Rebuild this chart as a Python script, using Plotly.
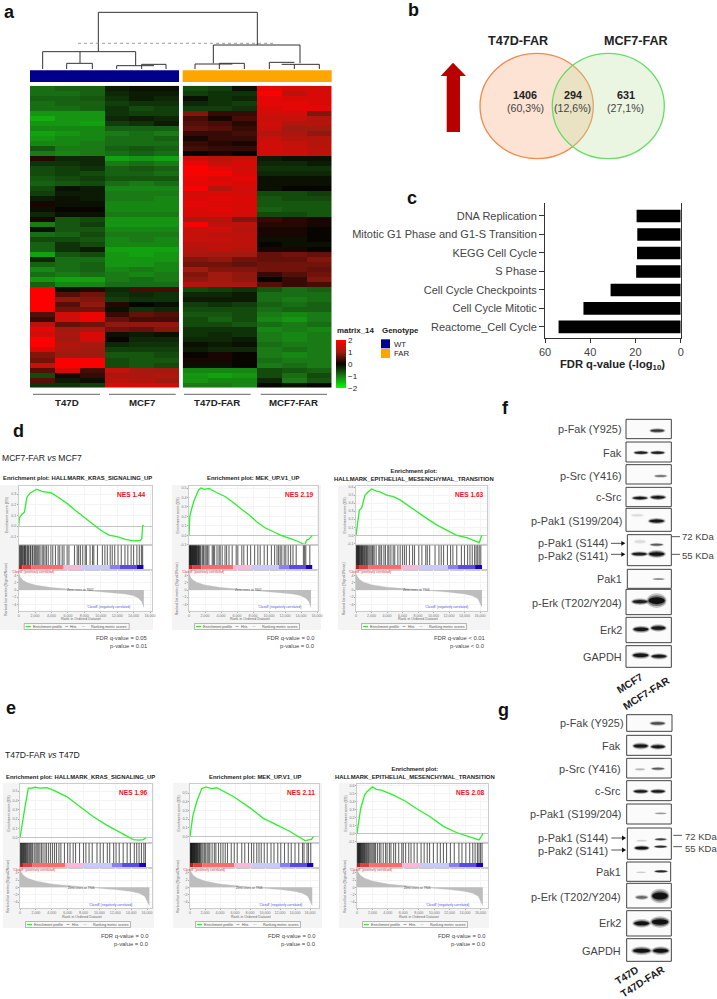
import plotly.graph_objects as go

W, H = 717, 999
FONT = "Liberation Sans"

# ---------- DATA ----------
# Panel a: expression z-scores, rows top to bottom; columns T47D x3, MCF7 x3, T47D-FAR x3, MCF7-FAR x3
heat_rows = [
[-0.9,-0.8,-0.8,-0.2,-0.1,-0.1,-0.6,-0.5,-0.1,1.7,1.6,1.5],
[-0.9,-0.9,-0.8,-0.3,-0.2,-0.2,-0.5,-0.4,-0.4,2.0,1.3,1.6],
[-0.8,-0.8,-0.7,-0.4,-0.2,-0.3,-0.1,-0.4,-0.3,1.7,1.6,1.6],
[-0.9,-0.8,-0.8,-0.5,-0.4,-0.4,-0.3,-0.4,-0.5,1.7,1.7,1.6],
[-0.9,-0.9,-0.8,-0.4,-0.6,-0.5,-0.5,-0.5,-0.4,1.6,1.7,1.7],
[-1.2,-1.2,-1.2,-0.4,-0.5,-0.5,0.8,0.3,0.3,1.5,1.5,0.8],
[-1.4,-1.2,-1.2,-0.3,-0.2,-0.3,0.4,0.1,0.4,1.4,1.4,1.2],
[-1.2,-1.2,-1.3,-0.5,-0.4,-0.2,0.5,0.4,0.2,1.5,1.2,1.2],
[-1.1,-1.1,-1.1,-0.8,-0.8,-0.8,0.6,0.5,0.3,1.4,1.0,1.0],
[-1.3,-1.2,-1.1,-1.0,-0.9,-1.0,0.3,0.3,0.4,1.2,1.1,0.9],
[-1.2,-1.1,-1.1,-0.9,-0.9,-0.8,0.1,0.3,0.3,1.4,1.2,1.2],
[-1.1,-1.1,-1.0,-0.9,-0.9,-0.9,0.3,0.2,0.1,1.5,1.4,1.2],
[-0.7,-1.0,-1.0,-0.8,-0.7,-0.8,0.4,0.3,0.3,1.5,1.4,1.3],
[-1.0,-1.1,-1.0,-0.9,-0.8,-0.9,0.0,0.1,0.0,1.5,1.5,1.3],
[0.2,-0.3,-0.3,-1.3,-1.2,-1.3,1.5,1.3,1.4,-0.2,-0.1,-0.1],
[-0.4,-0.4,-0.3,-1.0,-0.9,-1.0,1.8,1.4,1.6,-0.3,-0.3,-0.2],
[-0.6,-0.5,-0.4,-0.8,-0.7,-0.8,2.0,1.7,1.5,-0.4,-0.4,-0.4],
[-0.6,-0.5,-0.6,-0.8,-0.8,-0.9,1.9,1.9,1.6,-0.3,-0.3,-0.3],
[-0.7,-0.6,-0.5,-0.7,-0.7,-0.7,1.8,1.6,1.7,-0.1,-0.1,-0.1],
[-0.8,-0.7,-0.6,-0.9,-1.0,-0.9,1.7,1.7,1.6,-0.1,-0.1,-0.1],
[-0.6,-0.1,-0.2,-1.1,-1.1,-1.1,1.9,1.2,1.5,-0.1,0.0,0.0],
[-0.5,-0.2,-0.2,-1.0,-1.0,-1.0,1.5,1.6,1.5,-0.6,-0.6,-0.5],
[-0.2,-0.1,-0.2,-1.0,-1.0,-1.1,1.6,1.7,1.6,-0.7,-0.6,-0.6],
[0.1,-0.1,-0.1,-1.1,-1.1,-1.1,1.7,1.6,1.6,-0.7,-0.7,-0.7],
[-0.1,0.0,0.0,-1.1,-1.1,-1.1,1.6,1.7,1.6,-0.8,-0.7,-0.7],
[-0.3,-0.1,-0.1,-1.0,-1.0,-1.0,1.6,1.6,1.5,-0.6,-0.6,-0.7],
[0.1,-0.7,-0.6,-1.2,-1.2,-1.2,1.1,1.2,0.8,0.3,0.2,0.1],
[-1.0,-0.7,-0.5,-1.2,-1.2,-1.2,1.9,1.3,1.3,0.2,0.2,0.1],
[-0.1,-0.7,-0.7,-1.1,-1.1,-1.1,1.4,1.5,1.2,0.1,0.1,0.0],
[-0.9,-0.8,-0.6,-1.0,-1.0,-1.0,1.4,1.3,1.3,0.1,0.1,0.0],
[-0.6,-0.6,-0.7,-1.1,-1.0,-1.1,1.4,1.4,1.3,-0.1,-0.1,0.0],
[-0.8,-0.4,-0.6,-1.1,-1.1,-1.1,1.3,1.3,1.3,0.0,-0.1,-0.1],
[-0.8,-0.4,-0.2,-1.3,-1.3,-1.3,1.2,1.3,1.2,0.1,0.1,0.0],
[-1.3,-0.7,-0.6,-1.2,-1.3,-1.2,1.1,1.0,1.0,0.6,0.7,0.6],
[-0.3,-0.9,-0.9,-1.2,-1.2,-1.2,0.8,0.9,0.7,0.6,0.6,0.8],
[-0.8,-0.9,-0.8,-1.2,-1.2,-1.1,0.7,0.7,0.6,0.7,0.7,0.7],
[-1.1,-0.9,-0.8,-1.1,-1.0,-1.1,1.0,0.8,0.8,0.7,0.7,0.6],
[-0.9,-1.0,-0.9,-1.0,-1.1,-1.0,0.8,1.0,0.9,0.3,0.5,0.7],
[-1.2,-1.3,-1.3,-1.0,-0.9,-1.0,0.9,1.0,0.9,0.0,0.3,0.8],
[-0.8,-1.1,-1.1,-0.9,-0.9,-0.9,1.2,1.1,1.1,0.5,0.3,0.4],
[2.0,-0.1,0.2,-0.3,0.4,0.4,-0.6,-0.5,-0.4,-0.7,-0.9,-0.8],
[2.0,0.5,0.7,-0.4,-0.3,-0.4,-0.3,-0.3,-0.2,-0.9,-0.9,-0.9],
[2.0,0.9,0.8,-0.5,-0.4,-0.4,-0.2,-0.2,-0.2,-0.9,-1.0,-0.9],
[2.0,0.5,0.9,0.2,0.0,-0.1,-0.5,-0.4,-0.5,-0.8,-0.9,-0.8],
[2.0,0.7,0.7,-0.1,-0.4,-0.3,-0.6,-0.6,-0.6,-0.9,-0.8,-0.8],
[0.5,1.5,1.8,0.3,0.6,0.5,-0.7,-0.7,-0.6,-1.0,-1.1,-1.0],
[0.3,1.5,1.8,0.6,0.4,0.4,-0.6,-0.8,-0.6,-1.1,-1.2,-1.0],
[1.3,0.6,0.7,0.9,0.9,0.9,-0.6,-0.6,-0.7,-0.9,-1.0,-0.9],
[1.7,1.0,1.1,0.7,0.6,0.8,-0.4,-0.4,-0.4,-1.1,-1.0,-1.1],
[1.5,1.1,1.6,-0.1,-0.2,-0.1,-0.4,-0.3,-0.4,-1.0,-1.1,-1.0],
[2.0,1.0,1.5,0.0,-0.3,-0.3,-0.3,-0.3,-0.2,-1.0,-1.1,-1.0],
[2.0,1.2,1.1,-0.3,-0.4,-0.4,-0.1,-0.2,-0.1,-0.9,-1.0,-1.0],
[1.6,1.1,1.0,-0.5,-0.5,-0.5,-0.2,-0.3,-0.3,-1.0,-0.9,-1.0],
[0.8,1.0,1.0,-0.7,-0.7,-0.6,0.0,0.1,0.0,-1.0,-1.1,-1.0],
[0.7,1.9,1.9,-0.6,-0.7,-0.7,0.1,0.1,0.0,-0.9,-1.0,-1.0],
[1.4,2.0,2.0,-0.6,-0.7,-0.6,-0.1,-0.1,0.0,-1.0,-0.9,-1.0],
[0.5,1.6,0.4,1.4,1.1,1.0,-1.1,-1.1,-1.1,-0.6,-0.7,-0.8],
[-0.6,0.1,0.3,1.1,1.1,1.2,-1.2,-1.3,-1.2,-0.6,-0.9,-0.6],
[0.5,-0.2,-0.1,1.3,1.2,1.0,-1.2,-1.1,-1.1,-0.3,-1.0,-0.7],
[-0.4,-0.4,-0.5,1.6,1.5,1.5,-1.0,-1.0,-1.1,0.0,-0.1,0.0],
]
group_labels = ["T47D", "MCF7", "T47D-FAR", "MCF7-FAR"]
genotype_labels = ["WT", "FAR"]

# Panel b
venn_sets = ["T47D-FAR", "MCF7-FAR"]
venn_counts = ["1406", "294", "631"]
venn_shares = ["(60,3%)", "(12,6%)", "(27,1%)"]

# Panel c
pathways = ["DNA Replication", "Mitotic G1 Phase and G1-S Transition", "KEGG Cell Cycle", "S Phase",
            "Cell Cycle Checkpoints", "Cell Cycle Mitotic", "Reactome_Cell Cycle"]
fdr_values = [19.5, 19.2, 19.3, 19.7, 31, 43, 54]

# Panels d, e: running enrichment score
es_d1_rank = [0,100,400,700,1000,1400,2000,2200,2800,3400,4000,5000,6000,7000,8000,9000,10000,11000,12000,13000,14000,14800,15000,15100,15200]
es_d1 = [0,0.08,0.11,0.13,0.27,0.31,0.335,0.345,0.325,0.32,0.31,0.26,0.205,0.14,0.08,0.02,-0.04,-0.085,-0.1,-0.125,-0.14,-0.135,-0.12,0.0,0.01]
es_d2_rank = [0,100,300,600,900,1200,1500,1900,2500,3000,3500,4500,5500,6500,7600,8500,9500,10500,11500,12500,13500,14500,14700,15000,15200,15400]
es_d2 = [0,0.2,0.27,0.36,0.42,0.48,0.5,0.485,0.495,0.47,0.45,0.41,0.35,0.28,0.21,0.14,0.08,0.04,0.0,-0.03,-0.06,-0.1,-0.05,-0.04,-0.02,0.0]
es_d3_rank = [0,170,430,730,1160,1590,2020,2660,3100,3960,4820,5680,6540,7830,9120,10400,11700,13000,14300,15570,15910,16080,16260]
es_d3 = [0,0.11,0.31,0.34,0.5,0.54,0.575,0.55,0.54,0.5,0.48,0.44,0.38,0.3,0.21,0.13,0.06,0,-0.03,-0.08,-0.09,-0.04,0]
es_e1_rank = [0,340,630,1050,1470,1890,2520,3360,4200,5880,7560,9240,10920,12600,14280,15000,15540,15876]
es_e1 = [0,0.2,0.33,0.53,0.53,0.54,0.53,0.535,0.51,0.44,0.33,0.225,0.135,0.055,-0.02,-0.025,-0.02,0.0]
es_e2_rank = [0,360,890,1560,2130,2890,3560,5780,8000,9780,11560,13330,15330,16000,16200,16440]
es_e2 = [0,0.23,0.4,0.55,0.57,0.55,0.56,0.46,0.33,0.21,0.135,0.06,-0.045,-0.03,-0.03,0]
es_e3_rank = [0,216,475,990,1300,1990,2500,3150,4670,6390,7690,9420,11150,12880,14600,15810,16110,16330]
es_e3 = [0,0.125,0.31,0.48,0.52,0.58,0.55,0.54,0.48,0.395,0.31,0.21,0.09,0.01,-0.04,-0.083,-0.04,0]

# gene-set hit ranks
hits_d1 = [60,150,240,330,420,500,620,700,790,860,1010,1100,1200,1380,1450,1640,1720,1900,2020,2150,2310,2450,2600,2850,3000,3200,3380,3600,3920,4150,4480,4800,5000,5300,5520,5900,6120,6800,7130,7300,7520,7800,8100,8250,8700,9000,9150,9600,10200,10500,10800,11150,11400,11700,12100,12500,12950,13300,13700,14000,14400,14700,14950,15100]
hits_d2 = [40,90,140,190,240,300,360,420,470,530,590,640,700,760,820,880,940,1010,1090,1160,1220,1300,1400,1500,1700,1820,2000,2150,2300,2480,2900,3050,3200,3500,3750,3900,4150,4500,4700,5000,5400,5900,6100,6600,6850,7300,7700,8200,8600,8900,9400,9800,10300,10700,11000,11200,11400,11600,11900,12100,12400,12700,13000,13400,14300,14450,14600,15100]
hits_d3 = [40,100,160,220,280,340,400,480,550,640,720,800,880,950,1100,1180,1300,1380,1500,1650,1800,1950,2100,2200,2350,2600,2950,3100,3300,3600,3800,4100,4250,4500,4800,5000,5400,5700,6000,6250,6500,6900,7300,7550,8100,8500,9000,9200,9500,10200,10700,11000,11300,11800,12200,12500,13000,13600,14000,14400,14700,15000,15300,15500,15700,15900,16100]
hits_e1 = [50,120,200,270,350,430,510,590,680,770,860,960,1100,1220,1340,1480,1600,1800,2000,2150,2300,2500,2700,2900,3150,3350,3600,3850,4100,4350,4600,4900,5150,5600,6000,6300,6700,7000,7500,8000,8300,8700,9100,9700,10100,10500,11000,11300,11800,12100,12500,13000,13500,13900,14400,14700,15000,15300,15600,15800]
hits_e2 = [40,90,140,190,240,290,350,410,470,530,590,650,720,790,860,930,1000,1080,1170,1260,1350,1450,1600,1750,1950,2100,2300,2500,2650,2950,3250,3450,3800,4100,4400,4700,5000,5500,5900,6300,6900,7300,7800,8200,8500,8900,9200,9500,9900,10300,10800,11200,11700,12100,12600,13100,13500,14000,14500,15000,15200,15600,15800,16100]
hits_e3 = [40,100,160,220,280,340,400,470,540,620,700,790,870,960,1050,1150,1250,1380,1500,1650,1800,1950,2100,2250,2400,2650,2900,3100,3400,3700,3900,4200,4400,4750,5000,5400,5800,6000,6300,6700,7000,7400,7800,8300,8700,9100,9400,9900,10400,10800,11200,11600,12100,12600,13200,13600,14100,14600,15000,15300,15600,15800,16000,16200]

# ranking metric
metric_rank_d = [0,200,500,1000,2000,3000,4000,5000,6000,7000,7607,9000,10000,11000,12000,13000,14000,14600,15000,15250]
metric_d = [5.0,3.6,2.8,2.1,1.4,1.0,0.7,0.5,0.3,0.1,0,-0.2,-0.4,-0.6,-0.8,-1.1,-1.6,-2.3,-3.3,-5.0]
metric_rank_d3 = [0,200,500,1000,2000,3000,4000,5000,6000,7000,7900,9000,10000,11000,12000,13000,14000,15000,15700,16250]
metric_d3 = [4.6,3.7,2.9,2.2,1.5,1.1,0.8,0.6,0.4,0.2,0,-0.15,-0.3,-0.45,-0.6,-0.8,-1.1,-1.6,-2.4,-4.8]
metric_rank_e = [0,200,500,1000,2000,3000,4000,5000,6000,7000,7900,9000,10000,11000,12000,13000,14000,15000,15700,16300]
metric_e = [4.9,4.0,3.2,2.5,1.7,1.2,0.9,0.7,0.5,0.25,0,-0.15,-0.3,-0.45,-0.6,-0.8,-1.1,-1.6,-2.4,-5.0]
band_fracs = [0,0.03,0.1,0.36,0.5,0.73,0.81,0.945,1]

gsea_titles = ["Enrichment plot: HALLMARK_KRAS_SIGNALING_UP", "Enrichment plot: MEK_UP.V1_UP",
               "Enrichment plot:<br>HALLMARK_EPITHELIAL_MESENCHYMAL_TRANSITION"]
nes_d = ["NES 1.44", "NES 2.19", "NES 1.63"]
nes_e = ["NES 1.96", "NES 2.11", "NES 2.08"]
stats_d = [("FDR q-value = 0.05","p-value = 0.01"),("FDR q-value = 0.0","p-value = 0.0"),("FDR q-value < 0.01","p-value < 0.0")]
stats_e = [("FDR q-value = 0.0","p-value = 0.0"),("FDR q-value = 0.0","p-value = 0.0"),("FDR q-value = 0.0","p-value = 0.0")]
rank_ticks = [0,2000,4000,6000,8000,10000,12000,14000,16000]
rank_ticktext = ["0","2,000","4,000","6,000","8,000","10,000","12,000","14,000","16,000"]

# Panels f, g: western blot labels
blot_labels = ["p-Fak (Y925)","Fak","p-Src (Y416)","c-Src","p-Pak1 (S199/204)","p-Pak1 (S144)","p-Pak2 (S141)","Pak1","p-Erk (T202/Y204)","Erk2","GAPDH"]

# ---------- STYLE AND LAYOUT CONSTANTS (pixels on the page) ----------
HEAT_SCALE = [[0,"#00ff00"],[0.25,"#1a7a16"],[0.5,"#080400"],[0.75,"#a01a10"],[1,"#ff0000"]]
BAND_COLORS = ["#b82020","#e04040","#ff6a6a","#f9b8d8","#c9c9fb","#8a80f5","#5a4ae8","#1c00b8"]
DENDRO = [(295,37,772,37),(295,37,295,155),(772,37,772,135),
 (128,155,407,155),(128,155,128,207),(240,155,240,190),(200,190,277,190),(200,190,200,207),(277,190,277,207),
 (407,155,407,197),(350,197,462,197),(350,197,350,207),(425,193,498,193),(425,193,425,207),(498,193,498,207),
 (640,135,900,135),(640,135,640,190),(585,192,697,192),(585,192,585,207),(658,190,733,190),(658,190,658,207),(733,190,733,207),
 (900,135,900,190),(808,187,883,187),(808,187,808,207),(845,193,958,193),(883,193,883,207),(958,193,958,207)]

layout = dict(width=W, height=H, margin=dict(l=0,r=0,t=0,b=0,autoexpand=False), showlegend=False, paper_bgcolor="white",
              plot_bgcolor="rgba(0,0,0,0)", barmode="overlay", font=dict(family=FONT),
              xaxis=dict(domain=[0,1],range=[0,W],visible=False,fixedrange=True),
              yaxis=dict(domain=[0,1],range=[H,0],visible=False,fixedrange=True))
shapes, annots = [], []
traces = []
counter = [1]

def new_axes(x0, x1, y0, y1, xa, ya):
    counter[0] += 1
    n = counter[0]
    layout[f"xaxis{n}"] = dict(domain=[x0/W, x1/W], anchor=f"y{n}", fixedrange=True, **xa)
    layout[f"yaxis{n}"] = dict(domain=[1-y1/H, 1-y0/H], anchor=f"x{n}", fixedrange=True, **ya)
    return f"x{n}", f"y{n}"

def T(x, y, text, size, color="#222", anchor="center", bold=False, angle=0):
    if bold:
        text = "<b>" + text.replace("<br>", "</b><br><b>") + "</b>"
    annots.append(dict(x=x, y=y, xref="x", yref="y", text=text, showarrow=False, xanchor=anchor, yanchor="middle",
                       textangle=angle, borderpad=0, font=dict(size=size, color=color, family=FONT)))

def rect(x0, y0, x1, y1, fill="rgba(0,0,0,0)", line="rgba(0,0,0,0)", lw=0, layer="below"):
    shapes.append(dict(type="rect", xref="x", yref="y", x0=x0, y0=y0, x1=x1, y1=y1, fillcolor=fill,
                       line=dict(color=line, width=lw), layer=layer))

def seg(x0, y0, x1, y1, color="#333", lw=1, dash="solid"):
    shapes.append(dict(type="line", xref="x", yref="y", x0=x0, y0=y0, x1=x1, y1=y1, line=dict(color=color, width=lw, dash=dash), layer="above"))

# panel letters
for x, y, s in [(9,12,"a"),(413,10,"b"),(412,198,"c"),(18,431,"d"),(11,708,"e"),(505,408,"f"),(503,710,"g")]:
    T(x, y, s, 18, "#111", bold=True)

# ---------- a ----------
dx, dy = [], []
for a, b, c, d in DENDRO:
    dx += [a/3, c/3, None]
    dy += [b/3, d/3, None]
traces.append(go.Scatter(x=dx, y=dy, mode="lines", line=dict(color="#333", width=1), xaxis="x", yaxis="y", hoverinfo="skip"))
seg(78, 43.3, 276, 43.3, "#888", 0.8, "dot")
rect(30, 70.3, 179, 82, "#00008b")
rect(182.7, 70.3, 331.7, 82, "#ffa500")
left = [r[:6] for r in heat_rows]
right = [r[6:] for r in heat_rows]
for i, (z, x0, x1) in enumerate([(left, 30, 179), (right, 182.7, 331.7)]):
    xa, ya = new_axes(x0, x1, 85.7, 387.7,
                      dict(range=[-0.5,5.5], visible=False),
                      dict(range=[len(z)-0.5,-0.5], visible=False))
    tr = go.Heatmap(z=z, xaxis=xa, yaxis=ya, zmin=-2, zmax=2, colorscale=HEAT_SCALE, hoverinfo="skip", showscale=(i==0))
    if i == 0:
        tr.colorbar = dict(x=336/W, xanchor="left", y=1-364/H, yanchor="middle", len=48/H, lenmode="fraction",
                           thickness=10, thicknessmode="pixels", outlinewidth=0, xpad=0, ypad=0,
                           tickvals=[-2,-1,0,1,2], ticktext=["\u22122","\u22121","0","1","2"], ticks="",
                           tickfont=dict(size=8, color="#222", family=FONT))
    traces.append(tr)
for (a, b), lab in zip([(33,100),(109,175.7),(184,250.7),(260.7,327)], group_labels):
    seg(a, 394.3, b, 394.3, "#555", 0.9)
    T((a+b)/2, 402.5, lab, 9.7, "#222", bold=True)
T(336, 330, "matrix_14", 7.9, "#222", anchor="left", bold=True)
T(381, 330, "Genotype", 7.9, "#222", anchor="left", bold=True)
rect(381, 339.3, 390, 348.3, "#00008b")
rect(381, 349, 390, 358, "#ffa500")
T(393, 344, genotype_labels[0], 7.8, "#222", anchor="left")
T(393, 353.5, genotype_labels[1], 7.8, "#222", anchor="left")

# ---------- b ----------
shapes.append(dict(type="circle", xref="x", yref="y", x0=480, x1=593.3, y0=53.3, y1=158.7,
                   fillcolor="rgba(250,170,120,0.33)", line=dict(color="#ee8a50", width=1.3), layer="below"))
shapes.append(dict(type="circle", xref="x", yref="y", x0=552.3, x1=664.3, y0=53.3, y1=158.7,
                   fillcolor="rgba(190,225,160,0.30)", line=dict(color="#66dd66", width=1.3), layer="below"))
shapes.append(dict(type="path", xref="x", yref="y", layer="below", fillcolor="#b80000", line=dict(width=0),
                   path="M453,62.7 L466,76 L460,76 L460,132 L446.7,132 L446.7,76 L440.7,76 Z"))
T(518, 40.7, venn_sets[0], 12.6, "#222", bold=True)
T(636, 40.7, venn_sets[1], 12.6, "#222", bold=True)
for x, c, s in zip([525, 572.7, 625.7], venn_counts, venn_shares):
    T(x, 95, c, 10.8, "#222", bold=True)
    T(x, 108.3, s, 10.6, "#444")

# ---------- c ----------
xa, ya = new_axes(545, 680.7, 203, 338,
    dict(range=[60,0], tickvals=[0,20,40,60], ticks="outside", ticklen=4, tickcolor="#333", showline=True, linecolor="#333",
         linewidth=1, showgrid=False, zeroline=False, tickfont=dict(size=11, color="#444", family=FONT)),
    dict(range=[6.6,-0.7], tickvals=list(range(7)), ticktext=pathways, ticks="outside", ticklen=5, tickcolor="#333",
         showline=True, linecolor="#333", linewidth=1, mirror=True, showgrid=False, zeroline=False,
         tickfont=dict(size=11, color="#444", family=FONT)))
traces.append(go.Bar(y=list(range(7)), x=fdr_values, orientation="h", width=0.68, marker=dict(color="black", line=dict(width=0)),
                     xaxis=xa, yaxis=ya, hoverinfo="skip"))
T(612, 365, "FDR q-value (-log<sub>10</sub>)", 11.2, "#222", bold=True)

# ---------- d, e ----------
def gsea(L, rank, es, hits, mrank, metric, estick, title, nes, stats, zero):
    ox0, ox1 = L["ox"]; oy0, oy1 = L["oy"]; px0, px1 = L["px"]
    ytop, y1, y2, y3 = L["ys"]
    rect(ox0, oy0, ox1, oy1, "#f4f4f4")
    rect(px0, ytop, px1, y3, "white")
    k = (L["x16"]-L["x0"])/16000
    xr = [(px0-L["x0"])/k, (px1-L["x0"])/k]
    v1, p1, v2, p2 = L["es"]
    ke = (p2-p1)/(v2-v1)
    yr_es = [v1+(y1-p1)/ke, v1+(ytop-p1)/ke]
    frame = dict(showline=True, linecolor="#cccccc", linewidth=0.6, mirror=True)
    tf = dict(size=3.6, color="#777", family=FONT)
    xa, ya = new_axes(px0, px1, ytop, y1,
        dict(range=xr, tickvals=rank_ticks, showticklabels=False, ticks="", showgrid=True, gridcolor="#f4f4f4", gridwidth=0.4, zeroline=False, **frame),
        dict(range=yr_es, tickvals=estick, ticktext=[f"{v:.1f}" for v in estick], ticks="outside", ticklen=1, tickcolor="#aaa",
             tickfont=tf, showgrid=True, gridcolor="#f4f4f4", gridwidth=0.4, zeroline=True, zerolinecolor="#c4c4c4", zerolinewidth=0.8, **frame))
    traces.append(go.Scatter(x=rank, y=es, mode="lines", line=dict(color="#2bf02b", width=1.3), xaxis=xa, yaxis=ya, hoverinfo="skip"))
    # hits + colour strip
    N = rank[-1]
    bh = 5/(y2-y1)
    xa, ya = new_axes(px0, px1, y1, y2,
        dict(range=xr, visible=True, showticklabels=False, ticks="", showgrid=False, zeroline=False, **frame),
        dict(range=[0,1], visible=True, showticklabels=False, ticks="", showgrid=False, zeroline=False, **frame))
    hx, hy = [], []
    for h in hits:
        hx += [h, h, None]
        hy += [bh, 1, None]
    traces.append(go.Scatter(x=hx, y=hy, mode="lines", line=dict(color="rgba(0,0,0,0.6)", width=1.1), xaxis=xa, yaxis=ya, hoverinfo="skip"))
    starts = [f*N for f in band_fracs[:-1]]
    widths = [(b-a)*N for a, b in zip(band_fracs[:-1], band_fracs[1:])]
    traces.append(go.Bar(y=[bh/2]*8, x=widths, base=starts, width=bh, orientation="h", marker=dict(color=BAND_COLORS, line=dict(width=0)),
                         xaxis=xa, yaxis=ya, hoverinfo="skip"))
    # ranking metric
    v1, p1, v2, p2 = L["rk"]
    kr = (p2-p1)/(v2-v1)
    xa, ya = new_axes(px0, px1, y2, y3,
        dict(range=xr, tickvals=rank_ticks, ticktext=rank_ticktext, ticks="outside", ticklen=1, tickcolor="#aaa", tickfont=tf,
             showgrid=True, gridcolor="#f4f4f4", gridwidth=0.4, zeroline=False, **frame),
        dict(range=[v1+(y3-p1)/kr, v1+(y2-p1)/kr], tickvals=[-4,-2,0,2,4], ticks="outside", ticklen=1, tickcolor="#aaa", tickfont=tf,
             showgrid=True, gridcolor="#f4f4f4", gridwidth=0.4, zeroline=False, **frame))
    traces.append(go.Scatter(x=mrank, y=metric, mode="lines", line=dict(color="#bdbdbd", width=0.3), fill="tozeroy", fillcolor="#bdbdbd",
                             xaxis=xa, yaxis=ya, hoverinfo="skip"))
    # texts
    cx = (px0+px1)/2
    T(L["tx"], ytop-(7.5 if "<br>" not in title else 11), title, 5.9, "#222", bold=True)
    T(L["nx"], ytop+8.5, nes, 6.6, "#f01020", anchor="right", bold=True)
    T(L["nx"]+1, oy1+8, stats[0], 5.85, "#444", anchor="right")
    T(L["nx"]+1, oy1+15.5, stats[1], 5.85, "#444", anchor="right")
    T(px0-12, (ytop+y1)/2, "Enrichment score (ES)", 3.6, "#666", angle=-90)
    T(px0-12, (y2+y3)/2-1, "Ranked list metric (Signal2Noise)", 3.6, "#666", angle=-90)
    T(cx-4, y3+8.5, "Rank in Ordered Dataset", 3.6, "#666")
    T(px0+14, y2+1.6, "'Class8' (positively correlated)", 3.2, "#e83030")
    T(px0+90, y3-3.5, "'Class8' (negatively correlated)", 3.2, "#5050e0")
    T(cx-5, y2+20, zero, 3.2, "#444")
    lx0 = px0+5.5
    rect(lx0, oy1-6.5, lx0+105, oy1-0.5, "#f8f8f8", "#777", 0.5)
    seg(lx0+1.5, oy1-3.5, lx0+6.5, oy1-3.5, "#22ee22", 1)
    T(lx0+7.5, oy1-3.5, "Enrichment profile", 3.6, "#555", anchor="left")
    seg(lx0+41, oy1-3.5, lx0+44, oy1-3.5, "#555", 0.5)
    T(lx0+45, oy1-3.5, "Hits", 3.6, "#555", anchor="left")
    seg(lx0+58, oy1-3.5, lx0+61, oy1-3.5, "#bbb", 0.5)
    T(lx0+66, oy1-3.5, "Ranking metric scores", 3.6, "#555", anchor="left")

D_Y = dict(oy=(485,630), ys=(485.7,545.3,570,610.7), rk=(4,575.7,-4,604.3))
E_Y = dict(oy=(783,928), ys=(784,843,868,908), rk=(4,872.7,-4,902))
panels = [
 (dict(D_Y, ox=(0,153), px=(18.7,151.7), x0=18.7, x16=150, es=(0.3,494,0.0,526), tx=77, nx=147),
  es_d1_rank, es_d1, hits_d1, metric_rank_d, metric_d, [-0.1,0,0.1,0.2,0.3], gsea_titles[0], nes_d[0], stats_d[0], "Zero cross at 7607"),
 (dict(D_Y, ox=(172,321), px=(189,318.3), x0=189, x16=317, es=(0.5,488,0.0,535.3), tx=253, nx=315),
  es_d2_rank, es_d2, hits_d2, metric_rank_d, metric_d, [-0.1,0,0.1,0.2,0.3,0.4,0.5], gsea_titles[1], nes_d[1], stats_d[1], "Zero cross at 7607"),
 (dict(D_Y, ox=(338,490), px=(356,487), x0=356, x16=480, es=(0.6,487,0.0,535.3), tx=414, nx=485),
  es_d3_rank, es_d3, hits_d3, metric_rank_d3, metric_d3, [-0.1,0,0.1,0.2,0.3,0.4,0.5,0.6], gsea_titles[2], nes_d[2], stats_d[2], "Zero cross at 7906"),
 (dict(E_Y, ox=(3,154), px=(20,152), x0=20, x16=147, es=(0.5,791,0.0,837.7), tx=80, nx=149),
  es_e1_rank, es_e1, hits_e1, metric_rank_e, metric_e, [0,0.1,0.2,0.3,0.4,0.5], gsea_titles[0], nes_e[0], stats_e[0], "Zero cross at 7906"),
 (dict(E_Y, ox=(173,322), px=(190,319), x0=190, x16=310, es=(0.5,793,0.0,836.7), tx=255, nx=316),
  es_e2_rank, es_e2, hits_e2, metric_rank_e, metric_e, [0,0.1,0.2,0.3,0.4,0.5], gsea_titles[1], nes_e[1], stats_e[1], "Zero cross at 7906"),
 (dict(E_Y, ox=(339,489), px=(357,488), x0=357, x16=480.5, es=(0.6,785.3,0.0,833.3), tx=415, nx=486),
  es_e3_rank, es_e3, hits_e3, metric_rank_e, metric_e, [-0.1,0,0.1,0.2,0.3,0.4,0.5,0.6], gsea_titles[2], nes_e[2], stats_e[2], "Zero cross at 7906"),
]
for p in panels:
    gsea(*p)
T(1, 458, "MCF7-FAR <i>vs</i> MCF7", 8.6, "#222", anchor="left")
T(4, 755, "T47D-FAR <i>vs</i> T47D", 8.6, "#222", anchor="left")

# ---------- f, g ----------
def band(ox, oy, cx, cy, w, h, d):
    X = ox+cx/3; Y = oy+cy/3
    w /= 3; h /= 3
    for sx, sy, op in [(1.12,1.7,0.22*d),(1.0,1.25,0.4*d),(0.9,0.8,0.85*d)]:
        shapes.append(dict(type="circle", xref="x", yref="y", x0=X-w*sx/2, x1=X+w*sx/2, y0=Y-h*sy/2, y1=Y+h*sy/2,
                           fillcolor=f"rgba(0,0,0,{op:.2f})", line=dict(width=0), layer="below"))

def blot(ox, oy, boxes, labpos, bands, intens, tail, kda, name_labels):
    for b in boxes:
        rect(ox+b[0]/3, oy+b[1]/3, ox+b[2]/3, oy+b[3]/3, "#fbfbfb", "#444", 1)
    for (cx, cy, w, h), d in zip(bands, intens):
        band(ox, oy, cx, cy, w, h, d)
    for (x, y), s in zip(labpos, blot_labels):
        T(ox+x/3, oy+y/3, s, 10.9, "#444", anchor="right")
    for y, (a, b) in tail:
        seg(ox+a/3, oy+y/3, ox+b/3, oy+y/3, "#444", 0.9)
        shapes.append(dict(type="path", xref="x", yref="y", layer="above", fillcolor="#111", line=dict(width=0),
                           path=f"M{ox+(b+6)/3},{oy+y/3} L{ox+(b-6)/3},{oy+y/3-2.4} L{ox+(b-6)/3},{oy+y/3+2.4} Z"))
    for (x0, x1, yl, xt, yt), s in zip(kda, ["72 KDa", "55 KDa"]):
        seg(ox+x0/3, oy+yl/3, ox+x1/3, oy+yl/3, "#444", 0.9)
        T(ox+xt/3, oy+yt/3, s, 9.5, "#444", anchor="left")
    for x, y, s in name_labels:
        T(x, y, s, 10.3, "#222", bold=True, angle=-32)

blot(510, 400,
     [(348,58,484,116),(348,126,484,186),(348,194,484,252),(348,262,484,320),(348,325,484,394),(352,404,484,497),
      (352,508,484,565),(348,568,484,644),(348,652,484,728),(348,737,484,802)],
     [(338,88),(338,158),(338,227),(338,292),(338,362),(298,430),(298,468),(338,537),(338,608),(338,690),(338,770)],
     [(442,92,44,9),(393,158,42,8),(443,158,42,8),(452,228,38,6),(390,294,46,9),(444,292,46,10),(440,363,48,11),(382,346,40,8),
      (388,462,48,10),(440,462,50,14),(440,434,40,7),(390,425,36,10),(446,537,36,4),(390,605,48,12),(440,602,54,26),
      (393,688,48,13),(445,684,46,13),(392,766,50,13),(447,769,48,11)],
     [0.75,0.9,0.9,0.5,0.95,0.95,0.95,0.08,0.9,1,0.55,0.08,0.5,0.9,1,0.95,0.95,0.95,0.95],
     [(430,(303,340)),(463,(303,340))],
     [(485,510,410,514,410),(485,510,463,514,466)],
     [(629.6,683.7,"MCF7"),(646,693,"MCF7-FAR")])
blot(510, 690,
     [(350,74,486,124),(350,136,484,196),(350,205,484,264),(350,272,484,332),(350,342,484,402),(352,414,484,508),
      (350,516,482,574),(350,580,484,654),(350,662,484,738),(350,746,484,814)],
     [(345,100),(336,168),(336,236),(336,304),(336,371),(296,444),(296,483),(336,547),(336,620),(336,700),(336,782)],
     [(443,100,46,9),(392,168,46,12),(444,170,44,11),(390,238,32,6),(444,236,40,7),(392,304,44,9),(444,304,44,9),(452,370,36,4),
      (395,452,32,4),(395,474,44,10),(452,448,36,6),(452,470,38,6),(393,547,30,4),(453,544,40,6),(395,622,38,10),(450,618,52,26),
      (395,700,50,15),(450,696,54,20),(395,782,56,15),(452,782,50,15)],
     [0.65,0.95,0.95,0.2,0.55,0.95,0.95,0.35,0.15,1,0.7,0.8,0.15,0.85,0.5,1,1,1,1,1],
     [(444,(304,342)),(480,(304,342))],
     [(490,516,436,522,440),(490,516,470,522,476)],
     [(626.7,975,"T47D"),(643,981.7,"T47D-FAR")])

layout["shapes"] = shapes
layout["annotations"] = annots
fig = go.Figure(data=traces, layout=layout)
fig.write_html("out.html", config=dict(displayModeBar=False),
               post_script="document.body.style.margin='0';document.body.style.overflow='hidden';")
